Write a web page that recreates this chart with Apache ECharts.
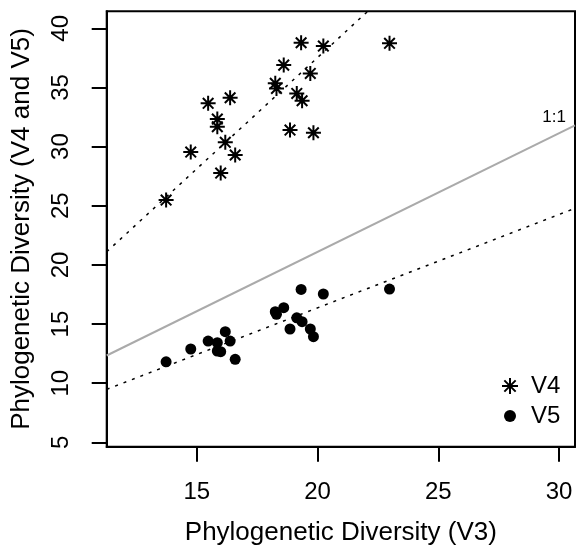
<!DOCTYPE html>
<html><head><meta charset="utf-8">
<script src="https://cdn.jsdelivr.net/npm/echarts@6/dist/echarts.min.js"></script>
<style>html,body{margin:0;padding:0;background:#fff}#c{width:576px;height:547px}</style>
</head><body><div id="c"></div>
<script>
// V3 phylogenetic diversity (shared x values)
const v3 = [13.73,14.75,15.47,15.85,15.85,15.99,16.18,16.38,16.59,18.25,18.30,18.60,18.86,19.14,19.32,19.36,19.70,19.83,20.24,22.98];
const v4 = [25.48,29.54,33.66,32.33,31.68,27.76,30.36,34.13,29.29,35.35,34.92,36.89,31.40,34.50,38.78,33.88,36.19,31.17,38.50,38.73];
const v5 = [11.81,12.89,13.56,13.42,12.72,12.66,14.35,13.56,12.02,16.04,15.82,16.38,14.58,15.53,17.93,15.20,14.58,13.93,17.54,17.96];
// fitted/reference line endpoints
const fitV4 = [[11.27,21.11],[22.08,41.44]];
const fitV5 = [[11.27,9.48],[30.66,24.78]];
const oneToOne = [[11.27,12.34],[30.66,31.80]];
const xTicks = [15,20,25,30];
const yTicks = [5,10,15,20,25,30,35,40];
const xRange = [11.27,30.66];
const yRange = [4.63,41.44];

const FONT = "'Liberation Sans', Arial, Helvetica, sans-serif";
const star = 'path://M0,-1L0,1M-1,0L1,0M-0.7071,-0.7071L0.7071,0.7071M-0.7071,0.7071L0.7071,-0.7071';
const chart = echarts.init(document.getElementById('c'), null, {renderer:'canvas'});
chart.setOption({
  animation:false,
  backgroundColor:'#fff',
  textStyle:{fontFamily:FONT},
  grid:{left:106.7, right:1, top:11.3, bottom:100.3, show:true, borderColor:'#000', borderWidth:2, backgroundColor:'transparent', containLabel:false, outerBoundsMode:'none'},
  xAxis:{type:'value', min:xRange[0], max:xRange[1],
    name:'Phylogenetic Diversity (V3)', nameLocation:'middle', nameGap:73,
    nameTextStyle:{fontSize:26, color:'#000', fontFamily:FONT},
    axisLine:{show:true, lineStyle:{color:'#000', width:2}},
    axisTick:{show:true, length:15, lineStyle:{color:'#000', width:2}, customValues:xTicks},
    axisLabel:{fontSize:24, color:'#000', margin:34, fontFamily:FONT, customValues:xTicks},
    splitLine:{show:false}},
  yAxis:{type:'value', min:yRange[0], max:yRange[1],
    name:'Phylogenetic Diversity (V4 and V5)', nameLocation:'middle', nameGap:72,
    nameTextStyle:{fontSize:26, color:'#000', fontFamily:FONT},
    axisLine:{show:true, lineStyle:{color:'#000', width:2}},
    axisTick:{show:true, length:15, lineStyle:{color:'#000', width:2}, customValues:yTicks},
    axisLabel:{fontSize:24, color:'#000', margin:33, rotate:90, fontFamily:FONT, customValues:yTicks},
    splitLine:{show:false}},
  legend:{orient:'vertical', left:496, top:369, itemWidth:16, itemHeight:16, itemGap:6,
    textStyle:{fontSize:24, color:'#000', fontFamily:FONT, padding:[0,0,0,8]},
    data:[
      {name:'V4', icon:star, itemStyle:{color:'transparent', borderColor:'#000', borderWidth:2}},
      {name:'V5', icon:'path://M0,-6A6,6 0 1,1 0,6A6,6 0 1,1 0,-6ZM-8,-8M8,8', itemStyle:{color:'#000', borderWidth:0}}
    ]},
  graphic:[{type:'text', right:10, top:109, style:{text:'1:1', fontSize:17, fill:'#000', fontFamily:FONT}}],
  series:[
    {name:'1:1', type:'line', data:oneToOne, symbol:'none', lineStyle:{color:'#aaaaaa', width:2}, silent:true, z:1},
    {name:'fitV4', type:'line', data:fitV4, symbol:'none', lineStyle:{color:'#000', width:1.5, type:[3,6]}, silent:true, z:1},
    {name:'fitV5', type:'line', data:fitV5, symbol:'none', lineStyle:{color:'#000', width:1.5, type:[3,6]}, silent:true, z:1},
    {name:'V4', type:'scatter', data:v3.map((x,i)=>[x,v4[i]]), symbol:star, symbolSize:15,
      itemStyle:{color:'transparent', borderColor:'#000', borderWidth:2, opacity:1}, z:3},
    {name:'V5', type:'scatter', data:v3.map((x,i)=>[x,v5[i]]), symbol:'circle', symbolSize:11,
      itemStyle:{color:'#000', opacity:1}, z:3}
  ]
});
</script></body></html>
